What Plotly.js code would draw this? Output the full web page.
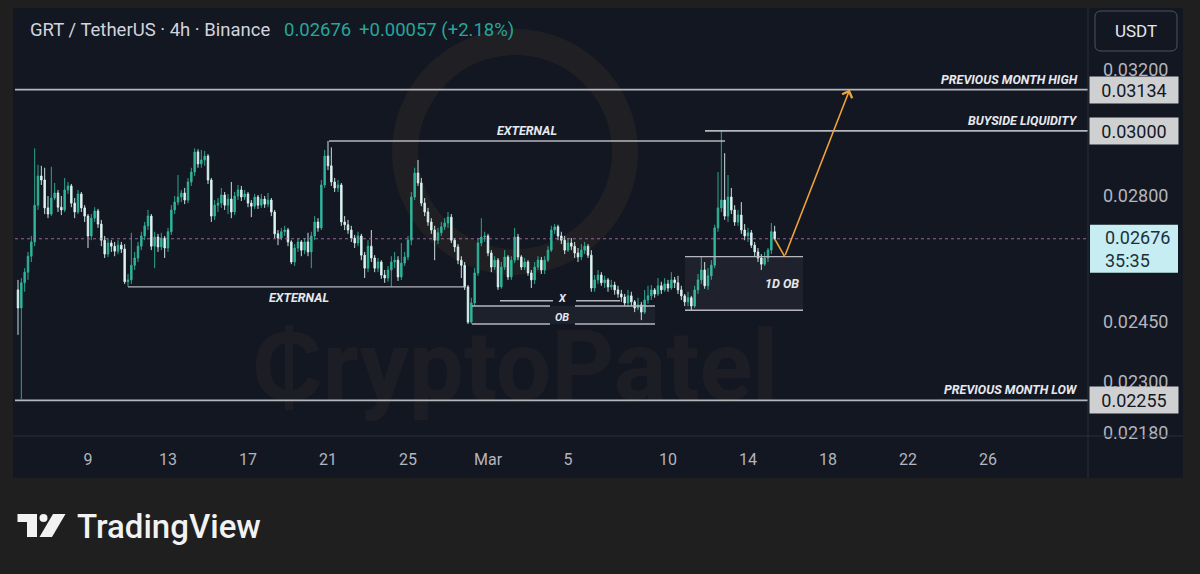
<!DOCTYPE html>
<html>
<head>
<meta charset="utf-8">
<script src="https://cdn.plot.ly/plotly-3.0.1.min.js"></script>
<style>
html,body{margin:0;padding:0;background:#1f1f1f;}
#chart{width:1200px;height:574px;}
</style>
</head>
<body>
<div id="chart"></div>
<script>
// ---------------- DATA ----------------
const symbolTitle = 'GRT / TetherUS · 4h · Binance';
const lastPriceText = '0.02676';
const changeText = '+0.00057 (+2.18%)';
const countdownText = '35:35';
const quoteCurrency = 'USDT';
const firstCandle = '2026-02-05 12:00';
const candleHours = 4;

const open = [
0.02535,0.02487,0.02554,0.02583,0.02627,0.02667,0.02773,0.02860,0.02848,0.02765,
0.02747,0.02794,0.02809,0.02767,0.02759,0.02818,0.02830,0.02779,0.02753,0.02806,
0.02765,0.02741,0.02684,0.02735,0.02756,0.02718,0.02672,0.02633,0.02664,0.02655,
0.02641,0.02658,0.02647,0.02557,0.02562,0.02602,0.02622,0.02655,0.02684,0.02713,
0.02741,0.02655,0.02681,0.02653,0.02678,0.02650,0.02696,0.02759,0.02782,0.02797,
0.02809,0.02788,0.02842,0.02872,0.02934,0.02897,0.02909,0.02921,0.02848,0.02741,
0.02773,0.02779,0.02803,0.02773,0.02791,0.02753,0.02800,0.02818,0.02797,0.02806,
0.02779,0.02770,0.02797,0.02773,0.02791,0.02776,0.02788,0.02753,0.02690,0.02678,
0.02696,0.02701,0.02667,0.02611,0.02650,0.02667,0.02644,0.02667,0.02639,0.02684,
0.02724,0.02707,0.02833,0.02921,0.02891,0.02842,0.02824,0.02833,0.02724,0.02716,
0.02701,0.02678,0.02664,0.02684,0.02630,0.02594,0.02655,0.02622,0.02594,0.02611,
0.02575,0.02567,0.02589,0.02611,0.02616,0.02570,0.02608,0.02625,0.02672,0.02797,
0.02869,0.02839,0.02779,0.02753,0.02724,0.02701,0.02672,0.02693,0.02710,0.02721,
0.02738,0.02672,0.02653,0.02616,0.02602,0.02543,0.02450,0.02500,0.02581,0.02664,
0.02681,0.02684,0.02636,0.02597,0.02616,0.02543,0.02597,0.02625,0.02570,0.02616,
0.02681,0.02625,0.02597,0.02611,0.02581,0.02562,0.02597,0.02616,0.02589,0.02616,
0.02644,0.02701,0.02710,0.02684,0.02672,0.02644,0.02664,0.02655,0.02636,0.02625,
0.02644,0.02655,0.02630,0.02540,0.02562,0.02575,0.02554,0.02562,0.02543,0.02548,
0.02535,0.02524,0.02516,0.02500,0.02519,0.02503,0.02487,0.02495,0.02476,0.02508,
0.02519,0.02535,0.02524,0.02546,0.02535,0.02551,0.02540,0.02562,0.02554,0.02535,
0.02519,0.02503,0.02514,0.02492,0.02535,0.02562,0.02589,0.02546,0.02573,0.02602,
0.02707,0.02765,0.02788,0.02741,0.02797,0.02759,0.02724,0.02744,0.02701,0.02684,
0.02693,0.02658,0.02639,0.02622,0.02605,0.02622,0.02644,0.02696
];
const high = [
0.02562,0.02567,0.02594,0.02639,0.02684,0.02945,0.02894,0.02891,0.02885,0.02800,
0.02888,0.02839,0.02818,0.02800,0.02854,0.02842,0.02836,0.02794,0.02818,0.02812,
0.02773,0.02747,0.02747,0.02767,0.02762,0.02730,0.02684,0.02678,0.02672,0.02667,
0.02672,0.02667,0.02661,0.02578,0.02693,0.02639,0.02667,0.02696,0.02724,0.02759,
0.02747,0.02696,0.02690,0.02693,0.02684,0.02707,0.02773,0.02800,0.02863,0.02818,
0.02824,0.02854,0.02885,0.02945,0.02942,0.02940,0.02937,0.02927,0.02854,0.02788,
0.02794,0.02824,0.02812,0.02806,0.02842,0.02812,0.02833,0.02830,0.02818,0.02812,
0.02788,0.02806,0.02803,0.02806,0.02800,0.02809,0.02794,0.02759,0.02701,0.02707,
0.02713,0.02707,0.02672,0.02661,0.02678,0.02672,0.02678,0.02693,0.02696,0.02741,
0.02735,0.02848,0.02940,0.02968,0.02948,0.02854,0.02848,0.02839,0.02741,0.02730,
0.02713,0.02687,0.02696,0.02690,0.02639,0.02672,0.02701,0.02630,0.02622,0.02616,
0.02589,0.02600,0.02627,0.02639,0.02627,0.02664,0.02639,0.02684,0.02812,0.02885,
0.02909,0.02854,0.02794,0.02765,0.02735,0.02713,0.02707,0.02724,0.02735,0.02753,
0.02747,0.02678,0.02661,0.02627,0.02611,0.02548,0.02514,0.02594,0.02678,0.02735,
0.02696,0.02690,0.02644,0.02627,0.02622,0.02611,0.02644,0.02630,0.02627,0.02707,
0.02690,0.02630,0.02622,0.02616,0.02589,0.02611,0.02627,0.02625,0.02627,0.02655,
0.02713,0.02718,0.02716,0.02696,0.02684,0.02678,0.02678,0.02667,0.02650,0.02661,
0.02667,0.02661,0.02644,0.02575,0.02589,0.02583,0.02573,0.02567,0.02562,0.02557,
0.02546,0.02535,0.02524,0.02535,0.02530,0.02508,0.02514,0.02503,0.02535,0.02546,
0.02548,0.02540,0.02567,0.02557,0.02567,0.02562,0.02583,0.02570,0.02573,0.02546,
0.02524,0.02530,0.02519,0.02546,0.02578,0.02625,0.02611,0.02594,0.02616,0.02716,
0.02872,0.03000,0.02930,0.02863,0.02824,0.02773,0.02759,0.02782,0.02718,0.02707,
0.02701,0.02667,0.02650,0.02633,0.02639,0.02650,0.02721,0.02713
];
const low = [
0.02417,0.02258,0.02530,0.02562,0.02611,0.02655,0.02759,0.02833,0.02747,0.02735,
0.02741,0.02788,0.02753,0.02744,0.02753,0.02806,0.02767,0.02735,0.02747,0.02753,
0.02724,0.02650,0.02672,0.02724,0.02707,0.02655,0.02622,0.02625,0.02639,0.02627,
0.02633,0.02636,0.02551,0.02543,0.02551,0.02589,0.02611,0.02644,0.02672,0.02701,
0.02644,0.02594,0.02639,0.02644,0.02622,0.02639,0.02687,0.02747,0.02773,0.02782,
0.02776,0.02779,0.02830,0.02860,0.02885,0.02885,0.02891,0.02836,0.02724,0.02730,
0.02753,0.02765,0.02759,0.02747,0.02735,0.02744,0.02788,0.02785,0.02788,0.02767,
0.02738,0.02762,0.02762,0.02765,0.02765,0.02767,0.02741,0.02678,0.02658,0.02672,
0.02684,0.02655,0.02605,0.02600,0.02639,0.02627,0.02633,0.02627,0.02594,0.02672,
0.02696,0.02701,0.02824,0.02878,0.02830,0.02812,0.02812,0.02713,0.02701,0.02690,
0.02667,0.02650,0.02655,0.02616,0.02567,0.02583,0.02611,0.02583,0.02583,0.02565,
0.02554,0.02557,0.02543,0.02594,0.02559,0.02562,0.02600,0.02616,0.02658,0.02788,
0.02830,0.02770,0.02741,0.02713,0.02690,0.02616,0.02661,0.02684,0.02701,0.02707,
0.02664,0.02639,0.02605,0.02567,0.02535,0.02445,0.02445,0.02492,0.02573,0.02655,
0.02667,0.02627,0.02583,0.02589,0.02535,0.02538,0.02589,0.02562,0.02562,0.02608,
0.02616,0.02589,0.02589,0.02573,0.02540,0.02551,0.02589,0.02578,0.02578,0.02611,
0.02639,0.02690,0.02672,0.02661,0.02633,0.02639,0.02644,0.02622,0.02611,0.02616,
0.02633,0.02622,0.02530,0.02530,0.02551,0.02546,0.02540,0.02530,0.02535,0.02522,
0.02514,0.02503,0.02492,0.02492,0.02492,0.02476,0.02481,0.02455,0.02471,0.02498,
0.02508,0.02514,0.02519,0.02524,0.02530,0.02530,0.02535,0.02540,0.02524,0.02508,
0.02492,0.02492,0.02481,0.02487,0.02524,0.02551,0.02538,0.02535,0.02562,0.02594,
0.02696,0.02753,0.02730,0.02724,0.02747,0.02713,0.02713,0.02690,0.02672,0.02667,
0.02650,0.02627,0.02611,0.02589,0.02600,0.02611,0.02633,0.02672
];
const close = [
0.02487,0.02554,0.02583,0.02627,0.02667,0.02773,0.02860,0.02848,0.02765,0.02747,
0.02794,0.02809,0.02767,0.02759,0.02818,0.02830,0.02779,0.02753,0.02806,0.02765,
0.02741,0.02684,0.02735,0.02756,0.02718,0.02672,0.02633,0.02664,0.02655,0.02641,
0.02658,0.02647,0.02557,0.02562,0.02602,0.02622,0.02655,0.02684,0.02713,0.02741,
0.02655,0.02681,0.02653,0.02678,0.02650,0.02696,0.02759,0.02782,0.02797,0.02809,
0.02788,0.02842,0.02872,0.02934,0.02897,0.02909,0.02921,0.02848,0.02741,0.02773,
0.02779,0.02803,0.02773,0.02791,0.02753,0.02800,0.02818,0.02797,0.02806,0.02779,
0.02770,0.02797,0.02773,0.02791,0.02776,0.02788,0.02753,0.02690,0.02678,0.02696,
0.02701,0.02667,0.02611,0.02650,0.02667,0.02644,0.02667,0.02639,0.02684,0.02724,
0.02707,0.02833,0.02921,0.02891,0.02842,0.02824,0.02833,0.02724,0.02716,0.02701,
0.02678,0.02664,0.02684,0.02630,0.02594,0.02655,0.02622,0.02594,0.02611,0.02575,
0.02567,0.02589,0.02611,0.02616,0.02570,0.02608,0.02625,0.02672,0.02797,0.02869,
0.02839,0.02779,0.02753,0.02724,0.02701,0.02672,0.02693,0.02710,0.02721,0.02738,
0.02672,0.02653,0.02616,0.02602,0.02543,0.02450,0.02500,0.02581,0.02664,0.02681,
0.02684,0.02636,0.02597,0.02616,0.02543,0.02597,0.02625,0.02570,0.02616,0.02681,
0.02625,0.02597,0.02611,0.02581,0.02562,0.02597,0.02616,0.02589,0.02616,0.02644,
0.02701,0.02710,0.02684,0.02672,0.02644,0.02664,0.02655,0.02636,0.02625,0.02644,
0.02655,0.02630,0.02540,0.02562,0.02575,0.02554,0.02562,0.02543,0.02548,0.02535,
0.02524,0.02516,0.02500,0.02519,0.02503,0.02487,0.02495,0.02476,0.02508,0.02519,
0.02535,0.02524,0.02546,0.02535,0.02551,0.02540,0.02562,0.02554,0.02535,0.02519,
0.02503,0.02514,0.02492,0.02535,0.02562,0.02589,0.02546,0.02573,0.02602,0.02707,
0.02765,0.02788,0.02741,0.02797,0.02759,0.02724,0.02744,0.02701,0.02684,0.02693,
0.02658,0.02639,0.02622,0.02605,0.02622,0.02644,0.02696,0.02676
];

const tickDates = ['2026-02-09','2026-02-13','2026-02-17','2026-02-21','2026-02-25','2026-03-01','2026-03-05','2026-03-10','2026-03-14','2026-03-18','2026-03-22','2026-03-26'];
const tickLabels = ['9','13','17','21','25','Mar','5','10','14','18','22','26'];
const priceTicks = [0.0218, 0.0230, 0.0245, 0.0280, 0.0320];
const priceTickLabels = ['0.02180','0.02300','0.02450','0.02800','0.03200'];

// drawn levels
const prevMonthHigh = 0.03134;
const buysideLiquidity = 0.03000;
const prevMonthLow = 0.02255;
const lastPrice = 0.02676;
const externalHigh = 0.02968;
const externalLow = 0.02543;
const xLevel = 0.02506;
const obTop = 0.02492, obBottom = 0.02445;
const dailyObTop = 0.02626, dailyObBottom = 0.02481;

// drawing anchor times
const viewStart = '2026-02-05 08:24', viewEnd = '2026-03-31 00:00';
const extHighFrom = '2026-02-21 01:12', extHighTo = '2026-03-12 20:24';
const bslFrom = '2026-03-11 20:24';
const extLowFrom = '2026-02-11 00:00', extLowTo = '2026-02-27 21:36';
const xFrom = '2026-03-01 14:24', xGapA = '2026-03-04 06:00', xGapB = '2026-03-05 09:36', xTo = '2026-03-07 14:24';
const obFrom = '2026-02-28 04:48', obGapA = '2026-03-04 02:24', obGapB = '2026-03-05 08:24', obTo = '2026-03-09 08:24';
const dObFrom = '2026-03-10 20:24', dObTo = '2026-03-16 18:00';
const projTimes = ['2026-03-15 08:00', '2026-03-15 20:00', '2026-03-19 02:00'];
const projPrices = [0.02676, 0.02626, 0.03134];

// ---------------- BUILD ----------------
function fmt(ms){ return new Date(ms).toISOString().slice(0,16).replace('T',' '); }
const t0 = Date.parse(firstCandle.replace(' ','T') + ':00Z');
const times = close.map((_, i) => fmt(t0 + i * candleHours * 3600e3));

// pixel geometry of the plotting region
const W = 1200, H = 574, L = 15, R = 1088, T = 8, B = 436;
const px = x => (x - L) / (R - L);
const py = y => (B - y) / (B - T);
const lg = Math.log10;
const yLo = lg(0.021715), yHi = lg(0.03417);
const pPaper = p => (lg(p) - yLo) / (yHi - yLo);   // price -> paper y
const dy = pixels => pixels / (B - T);              // pixel offset -> paper units

const UP = '#30b59b', DOWN = '#dcf5f0';
const LINE = '#b4b7be';
const FONT = 'Roboto, "Open Sans", sans-serif';

const traces = [];
traces.push({
  type: 'candlestick', x: times, open: open, high: high, low: low, close: close,
  increasing: {line: {color: UP, width: 0.9}, fillcolor: UP},
  decreasing: {line: {color: DOWN, width: 0.9}, fillcolor: DOWN},
  whiskerwidth: 0, hoverinfo: 'skip', showlegend: false
});
function seg(xs, ys, color, width, dash){
  traces.push({type:'scatter', mode:'lines', x: xs, y: ys, hoverinfo:'skip', showlegend:false,
    line:{color: color, width: width, dash: dash || 'solid'}});
}
function box(x0, x1, y0, y1, fill){
  traces.push({type:'scatter', mode:'lines', x:[x0,x1,x1,x0,x0], y:[y0,y0,y1,y1,y0], fill:'toself',
    fillcolor: fill, line:{width:0, color:'rgba(0,0,0,0)'}, hoverinfo:'skip', showlegend:false});
}
// boxes
box(obFrom, obTo, obTop, obBottom, 'rgba(255,255,255,0.045)');
box(dObFrom, dObTo, dailyObTop, dailyObBottom, 'rgba(255,255,255,0.05)');
// current price dotted
seg([viewStart, viewEnd], [lastPrice, lastPrice], 'rgba(176,110,170,0.85)', 1.2, 'dot');
// levels
seg([viewStart, viewEnd], [prevMonthHigh, prevMonthHigh], LINE, 1.6);
seg([bslFrom, viewEnd], [buysideLiquidity, buysideLiquidity], LINE, 1.6);
seg([viewStart, viewEnd], [prevMonthLow, prevMonthLow], LINE, 1.6);
seg([extHighFrom, extHighTo], [externalHigh, externalHigh], LINE, 1.4);
seg([extLowFrom, extLowTo], [externalLow, externalLow], LINE, 1.4);
seg([xFrom, xGapA, null, xGapB, xTo], [xLevel, xLevel, null, xLevel, xLevel], LINE, 1.4);
seg([obFrom, obGapA, null, obGapB, obTo], [obTop, obTop, null, obTop, obTop], LINE, 1.4);
seg([obFrom, obGapA, null, obGapB, obTo], [obBottom, obBottom, null, obBottom, obBottom], LINE, 1.4);
seg([dObFrom, dObTo], [dailyObTop, dailyObTop], LINE, 1.4);
seg([dObFrom, dObTo], [dailyObBottom, dailyObBottom], LINE, 1.4);
// projection path
seg(projTimes.slice(0,2), projPrices.slice(0,2), '#f0a23a', 1.6);

const labelFont = {family: FONT, size: 12.5, color: '#e6e8ee', style: 'italic', weight: 700};
const smallLabelFont = {family: FONT, size: 11, color: '#e6e8ee', style: 'italic', weight: 700};
const annotations = [
  // header
  {xref:'paper', yref:'paper', x: px(28), y: py(30), xanchor:'left', yanchor:'middle', showarrow:false,
   text: symbolTitle, font:{family: FONT, size: 18.5, color:'#d1d4dc'}},
  {xref:'paper', yref:'paper', x: px(282), y: py(30), xanchor:'left', yanchor:'middle', showarrow:false,
   text: lastPriceText, font:{family: FONT, size: 18.5, color:'#26a69a'}},
  {xref:'paper', yref:'paper', x: px(357), y: py(30), xanchor:'left', yanchor:'middle', showarrow:false,
   text: changeText, font:{family: FONT, size: 18.5, color:'#26a69a'}},
  // USDT
  {xref:'paper', yref:'paper', x: px(1136), y: py(31), xanchor:'center', yanchor:'middle', showarrow:false,
   text: quoteCurrency, font:{family: FONT, size: 17, color:'#e6e8ee'}},
  // level labels
  {xref:'paper', yref:'y', x: px(1080), y: lg(prevMonthHigh), yshift: 10, xanchor:'right', yanchor:'middle', showarrow:false,
   text:'PREVIOUS MONTH HIGH', font: labelFont},
  {xref:'paper', yref:'y', x: px(1080), y: lg(buysideLiquidity), yshift: 10, xanchor:'right', yanchor:'middle', showarrow:false,
   text:'BUYSIDE LIQUIDITY', font: labelFont},
  {xref:'paper', yref:'y', x: px(1080), y: lg(prevMonthLow), yshift: 11, xanchor:'right', yanchor:'middle', showarrow:false,
   text:'PREVIOUS MONTH LOW', font: labelFont},
  {xref:'x', yref:'y', x: '2026-03-02 22:48', y: lg(externalHigh), yshift: 11, xanchor:'center', yanchor:'middle', showarrow:false,
   text:'EXTERNAL', font: labelFont},
  {xref:'x', yref:'y', x: '2026-02-19 13:12', y: lg(externalLow), yshift: -11, xanchor:'center', yanchor:'middle', showarrow:false,
   text:'EXTERNAL', font: labelFont},
  {xref:'x', yref:'y', x: '2026-03-04 17:00', y: lg(xLevel), yshift: 2.5, xanchor:'center', yanchor:'middle', showarrow:false,
   text:'X', font: smallLabelFont, borderpad: 0},
  {xref:'x', yref:'y', x: '2026-03-04 17:00', y: (lg(obTop)+lg(obBottom))/2, yshift: -2.5, xanchor:'center', yanchor:'middle', showarrow:false,
   text:'OB', font: smallLabelFont, borderpad: 0},
  {xref:'x', yref:'y', x: '2026-03-15 16:48', y: (lg(dailyObTop)+lg(dailyObBottom))/2, xanchor:'center', yanchor:'middle', showarrow:false,
   text:'1D OB', font: labelFont},
  // projection arrow
  {xref:'x', yref:'y', axref:'x', ayref:'y', x: projTimes[2], y: lg(projPrices[2]), ax: projTimes[1], ay: lg(projPrices[1]),
   text:'', showarrow:true, arrowhead:4, arrowsize:1.3, arrowwidth:1.6, arrowcolor:'#f0a23a'},
  // price boxes
  {xref:'paper', yref:'y', x: px(1134), y: lg(prevMonthHigh), xanchor:'center', yanchor:'middle', showarrow:false,
   text: prevMonthHigh.toFixed(5), bgcolor:'#cfd0d2', width: 84, height: 22, borderpad: 2, font:{family: FONT, size: 18, color:'#131722'}},
  {xref:'paper', yref:'y', x: px(1134), y: lg(buysideLiquidity), xanchor:'center', yanchor:'middle', showarrow:false,
   text: buysideLiquidity.toFixed(5), bgcolor:'#cfd0d2', width: 84, height: 22, borderpad: 2, font:{family: FONT, size: 18, color:'#131722'}},
  {xref:'paper', yref:'y', x: px(1134), y: lg(prevMonthLow), xanchor:'center', yanchor:'middle', showarrow:false,
   text: prevMonthLow.toFixed(5), bgcolor:'#cfd0d2', width: 84, height: 22, borderpad: 2, font:{family: FONT, size: 18, color:'#131722'}},
  {xref:'paper', yref:'paper', x: px(1103), y: pPaper(lastPrice), yshift: -10.5, xanchor:'left', yanchor:'middle', showarrow:false, align:'left',
   text: lastPrice.toFixed(5) + '<br>' + countdownText, font:{family: FONT, size: 18, color:'#20303a'}},
  // watermark
  {xref:'paper', yref:'paper', x: px(515), y: py(366), xanchor:'center', yanchor:'middle', showarrow:false,
   text:'₵ryptoPatel', font:{family: FONT, size: 98, weight: 700, color:'rgba(215,170,90,0.055)'}},
  // TradingView brand
  {xref:'paper', yref:'paper', x: px(75), y: py(526), xanchor:'left', yanchor:'middle', showarrow:false,
   text:'TradingView', font:{family: FONT, size: 33, weight: 500, color:'#f2f2f2'}}
];

function roundRect(x0, y0, x1, y1, r){
  return `M${px(x0+r)},${py(y0)} L${px(x1-r)},${py(y0)} Q${px(x1)},${py(y0)} ${px(x1)},${py(y0+r)} ` +
         `L${px(x1)},${py(y1-r)} Q${px(x1)},${py(y1)} ${px(x1-r)},${py(y1)} L${px(x0+r)},${py(y1)} ` +
         `Q${px(x0)},${py(y1)} ${px(x0)},${py(y1-r)} L${px(x0)},${py(y0+r)} Q${px(x0)},${py(y0)} ${px(x0+r)},${py(y0)} Z`;
}

const shapes = [
  // chart panel
  {type:'rect', xref:'paper', yref:'paper', x0: px(13), x1: px(1183), y0: py(478), y1: py(8),
   fillcolor:'#131722', line:{width:0}, layer:'below'},
  // watermark ring
  {type:'circle', xref:'paper', yref:'paper', x0: px(405), x1: px(625), y0: py(262), y1: py(42),
   line:{color:'rgba(210,160,70,0.07)', width: 26}, layer:'below'},
  // separators
  {type:'line', xref:'paper', yref:'paper', x0: px(1088), x1: px(1088), y0: py(478), y1: py(8),
   line:{color:'#2a2e39', width:1}},
  {type:'line', xref:'paper', yref:'paper', x0: px(13), x1: px(1183), y0: py(436), y1: py(436),
   line:{color:'#2a2e39', width:1}},
  // last price box on the price scale
  {type:'rect', xref:'paper', yref:'paper', x0: px(1090), x1: px(1178),
   y0: pPaper(lastPrice) - dy(34), y1: pPaper(lastPrice) + dy(14),
   fillcolor:'#c6eef2', line:{width:0}, layer:'above'},
  // USDT button
  {type:'path', xref:'paper', yref:'paper', path: roundRect(1095, 11, 1177, 51, 6),
   fillcolor:'#131722', line:{color:'#50535e', width:1}},
  // TradingView logo mark
  {type:'path', xref:'paper', yref:'paper', fillcolor:'#f2f2f2', line:{width:0},
   path: `M${px(17.5)},${py(514)} L${px(37)},${py(514)} L${px(37)},${py(537)} L${px(27)},${py(537)} L${px(27)},${py(522)} L${px(17.5)},${py(522)} Z`},
  {type:'circle', xref:'paper', yref:'paper', fillcolor:'#f2f2f2', line:{width:0},
   x0: px(39.5), x1: px(47.5), y0: py(522), y1: py(514)},
  {type:'path', xref:'paper', yref:'paper', fillcolor:'#f2f2f2', line:{width:0},
   path: `M${px(53)},${py(514)} L${px(65.5)},${py(514)} L${px(52)},${py(537)} L${px(39.5)},${py(537)} Z`}
];

const layout = {
  width: W, height: H,
  margin: {l: L, r: W - R, t: T, b: H - B, autoexpand: false},
  paper_bgcolor: '#1f1f1f', plot_bgcolor: 'rgba(0,0,0,0)',
  font: {family: FONT, color: '#b2b5be'},
  showlegend: false, boxgap: 0.35, dragmode: false,
  xaxis: {type:'date', range:[viewStart, viewEnd], tickvals: tickDates, ticktext: tickLabels,
    tickfont:{family: FONT, size: 16, color:'#b2b5be'}, showgrid:false, zeroline:false, showline:false,
    ticks:'', ticklabelstandoff: 12, rangeslider:{visible:false}, fixedrange:true},
  yaxis: {type:'log', side:'right', range:[yLo, yHi], tickvals: priceTicks, ticktext: priceTickLabels,
    tickfont:{family: FONT, size: 18, color:'#b2b5be'}, showgrid:false, zeroline:false, showline:false,
    ticks:'', ticklabelstandoff: 14, fixedrange:true},
  annotations: annotations, shapes: shapes
};

Plotly.newPlot('chart', traces, layout, {displayModeBar:false, staticPlot:true});
</script>
</body>
</html>
